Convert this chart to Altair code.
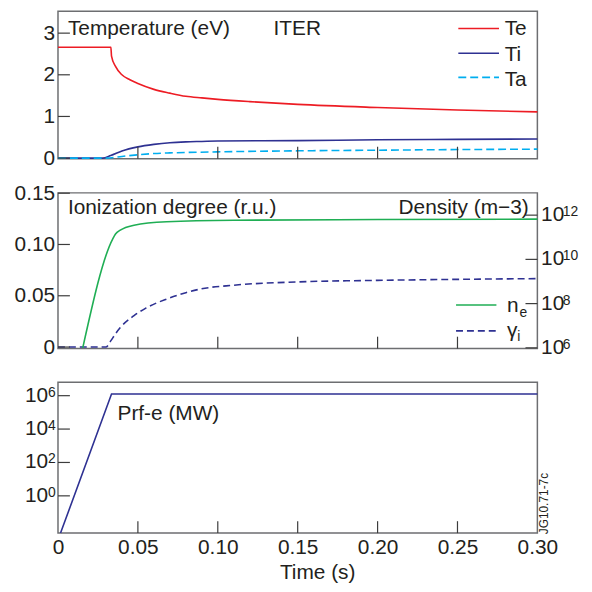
import altair as alt
import pandas as pd

# ---------------- data ----------------
# Panel 1: temperatures (eV)
te_t = [0, 0.0331, 0.0335, 0.036, 0.040, 0.045, 0.050, 0.060, 0.070, 0.080, 0.090, 0.100, 0.120, 0.150, 0.200, 0.250, 0.300]
te_v = [2.66, 2.66, 2.45, 2.20, 2.00, 1.88, 1.79, 1.65, 1.56, 1.485, 1.445, 1.41, 1.355, 1.29, 1.215, 1.155, 1.11]
ti_t = [0, 0.028, 0.033, 0.040, 0.050, 0.060, 0.070, 0.080, 0.090, 0.100, 0.150, 0.200, 0.250, 0.300]
ti_v = [0, 0, 0.06, 0.17, 0.27, 0.33, 0.37, 0.39, 0.40, 0.41, 0.42, 0.44, 0.45, 0.46]
ta_t = [0, 0.030, 0.040, 0.050, 0.060, 0.070, 0.080, 0.100, 0.150, 0.200, 0.250, 0.300]
ta_v = [0, 0, 0.04, 0.08, 0.11, 0.125, 0.135, 0.15, 0.175, 0.19, 0.205, 0.215]
temp_names = ["Te", "Ti", "Ta"]

# Panel 2: electron density (m-3, right log axis) and ionization degree (left axis)
ne_t = [0.0155, 0.0342, 0.036, 0.039, 0.0476, 0.068, 0.110, 0.200, 0.300]
ne_v = [1e6, 8.3e10, 1.4e11, 2.1e11, 3.5e11, 5.0e11, 5.9e11, 6.3e11, 6.6e11]
gi_t = [0, 0.030, 0.033, 0.036, 0.039, 0.0476, 0.055, 0.068, 0.080, 0.089, 0.110, 0.150, 0.200, 0.250, 0.300]
gi_v = [0, 0, 0.006, 0.013, 0.019, 0.0307, 0.038, 0.0468, 0.053, 0.0565, 0.0603, 0.0635, 0.065, 0.066, 0.0667]

# Panel 3: RF power
prf_t = [0.0016, 0.0335, 0.300]
prf_v = [5.9e-3, 1.26e6, 1.26e6]

# ticks
time_ticks = [0, 0.05, 0.10, 0.15, 0.20, 0.25, 0.30]
inner_time_ticks = [0.05, 0.10, 0.15, 0.20, 0.25]
temp_ticks = [0, 1, 2, 3]
ion_ticks = [0, 0.05, 0.10, 0.15]
dens_ticks = [1e6, 1e8, 1e10, 1e12]
dens_exp = ["6", "8", "10", "12"]
prf_ticks = [1, 1e2, 1e4, 1e6]
prf_exp = ["0", "2", "4", "6"]

# ---------------- style ----------------
W = 483.3
H1, H2, H3 = 148.5, 157, 152
FONT = "Liberation Sans"
TXT = "#231f20"
TICK = "#3c3c3c"
FRAME = "#6d6e71"
RED = "#ed1c24"
NAVY = "#2e3192"
CYAN = "#00aeef"
GREEN = "#1fae54"
FS = 21

xs = alt.Scale(domain=[0, 0.30], nice=False, zero=False)
ys1 = alt.Scale(domain=[-0.013, 3.523], nice=False, zero=False)
ys2l = alt.Scale(domain=[-0.0015, 0.1503], nice=False, zero=False)
ys2r = alt.Scale(type="log", domain=[10 ** 5.966, 10 ** 13.007], nice=False)
ys3 = alt.Scale(type="log", domain=[10 ** -2.231, 10 ** 6.80], nice=False)

# axes (the same axis object is given to every layer sharing the channel)
ax1 = alt.Axis(values=temp_ticks, labelPadding=3.4, title=None)
ax2 = alt.Axis(
    values=ion_ticks, labelPadding=3.4, title=None,
    labelExpr="datum.value == 0 ? '0' : format(datum.value, '.2f')",
)
axx = alt.Axis(
    values=time_ticks, labelPadding=3.5, labelFlush=False, labelOverlap=False,
    labelExpr="datum.value == 0 ? '0' : format(datum.value, '.2f')",
    title="Time (s)", titleX=261.3, titleY=45.5, titleBaseline="alphabetic",
    titleFontWeight="normal", titleFontSize=FS, titleFont=FONT, titleColor=TXT,
)


def line(t, v, color, ys, yaxis=None, xaxis=None, dash=None, interp="monotone"):
    kw = dict(color=color, strokeWidth=1.6, interpolate=interp)
    if dash:
        kw["strokeDash"] = dash
    return alt.Chart(pd.DataFrame({"t": t, "v": v})).mark_line(**kw).encode(
        x=alt.X("t:Q", scale=xs, axis=xaxis),
        y=alt.Y("v:Q", scale=ys, axis=yaxis),
    )


def xticks(h, xaxis=None):
    return alt.Chart(pd.DataFrame({"t": inner_time_ticks})).mark_rule(
        color=TICK, strokeWidth=1.2
    ).encode(x=alt.X("t:Q", scale=xs, axis=xaxis), y=alt.value(h), y2=alt.value(h - 12))


def yticks(vals, ys, side="left", yaxis=None):
    x1, x2 = (0, 12) if side == "left" else (W - 12, W)
    return alt.Chart(pd.DataFrame({"v": vals})).mark_rule(
        color=TICK, strokeWidth=1.2
    ).encode(y=alt.Y("v:Q", scale=ys, axis=yaxis), x=alt.value(x1), x2=alt.value(x2))


def label(text, x, y, size=FS, align="left", baseline="alphabetic", angle=0):
    return alt.Chart(pd.DataFrame({"s": [text]})).mark_text(
        align=align, baseline=baseline, font=FONT, fontSize=size, color=TXT, angle=angle
    ).encode(x=alt.value(x), y=alt.value(y), text="s:N")


def legline(x1, x2, y, color, dash=None):
    kw = dict(color=color, strokeWidth=1.6)
    if dash:
        kw["strokeDash"] = dash
    return alt.Chart(pd.DataFrame({"s": [0]})).mark_rule(**kw).encode(
        x=alt.value(x1), x2=alt.value(x2), y=alt.value(y)
    )


def loglabels(vals, exps, ys, x_base, x_exp, align):
    df = pd.DataFrame({"v": vals, "e": exps})
    base = alt.Chart(df).mark_text(
        align=align, baseline="middle", font=FONT, fontSize=FS, color=TXT
    ).encode(y=alt.Y("v:Q", scale=ys, axis=None), x=alt.value(x_base), text=alt.value("10"))
    ex = alt.Chart(df).mark_text(
        align="left", baseline="alphabetic", dy=1, font=FONT, fontSize=14, color=TXT
    ).encode(y=alt.Y("v:Q", scale=ys, axis=None), x=alt.value(x_exp), text="e:N")
    return base + ex


# ---------------- panel 1 ----------------
p1 = alt.layer(
    line(te_t, te_v, RED, ys1, yaxis=ax1),
    line(ti_t, ti_v, NAVY, ys1, yaxis=ax1),
    line(ta_t, ta_v, CYAN, ys1, yaxis=ax1, dash=[8, 4]),
    yticks(temp_ticks, ys1, yaxis=ax1),
    xticks(H1),
    label("Temperature (eV)", 10, 23.6),
    label("ITER", 217.3, 23.6),
    legline(403.6, 444.6, 17.25, RED),
    legline(403.6, 444.6, 42.25, NAVY),
    legline(403.6, 444.6, 66.6, CYAN, dash=[8, 4]),
    label(temp_names[0], 450.3, 23.6),
    label(temp_names[1], 450.3, 49.6),
    label(temp_names[2], 450.3, 75.3),
).properties(width=W, height=H1)

# ---------------- panel 2 ----------------
left2 = alt.layer(
    line(gi_t, gi_v, NAVY, ys2l, yaxis=ax2, dash=[7, 4]),
    yticks(ion_ticks, ys2l, yaxis=ax2),
)
right2 = alt.layer(
    line(ne_t, ne_v, GREEN, ys2r),
    yticks(dens_ticks, ys2r, side="right"),
    loglabels(dens_ticks, dens_exp, ys2r, W + 3.7, W + 25.5, "left"),
)
p2 = alt.layer(
    left2,
    right2,
    xticks(H2),
    label("Ionization degree (r.u.)", 10, 21.4),
    label("Density (m\u22123)", 474.6, 21, align="right"),
    legline(401.3, 442, 113.1, GREEN),
    legline(401.3, 442, 139.1, NAVY, dash=[7, 4]),
    label("n", 452.7, 119.75),
    label("e", 465.3, 125.4, size=14),
    label("\u03b3", 452.7, 145.75),
    label("i", 463, 149, size=14),
).resolve_scale(y="independent").properties(width=W, height=H2)

# ---------------- panel 3 ----------------
p3 = alt.layer(
    line(prf_t, prf_v, NAVY, ys3, xaxis=axx, interp="linear"),
    yticks(prf_ticks, ys3),
    loglabels(prf_ticks, prf_exp, ys3, -10, -10, "right"),
    xticks(H3, xaxis=axx),
    label("Prf-e (MW)", 60, 37.75),
    label("JG10.71-7c", W + 7, 122.25, size=12, align="center", baseline="middle", angle=270),
).properties(width=W, height=H3)

chart = (
    alt.vconcat(p1, p2, p3, spacing=34, bounds="flush")
    .properties(padding={"left": 4.4, "top": 0, "right": 5, "bottom": 5})
    .configure_view(stroke=FRAME, strokeWidth=1.5)
    .configure_axis(
        ticks=False, tickSize=0, domain=False, grid=False,
        labelFont=FONT, labelFontSize=FS, labelColor=TXT,
    )
)

chart.save("out.html", embed_options={"renderer": "svg", "actions": False})
